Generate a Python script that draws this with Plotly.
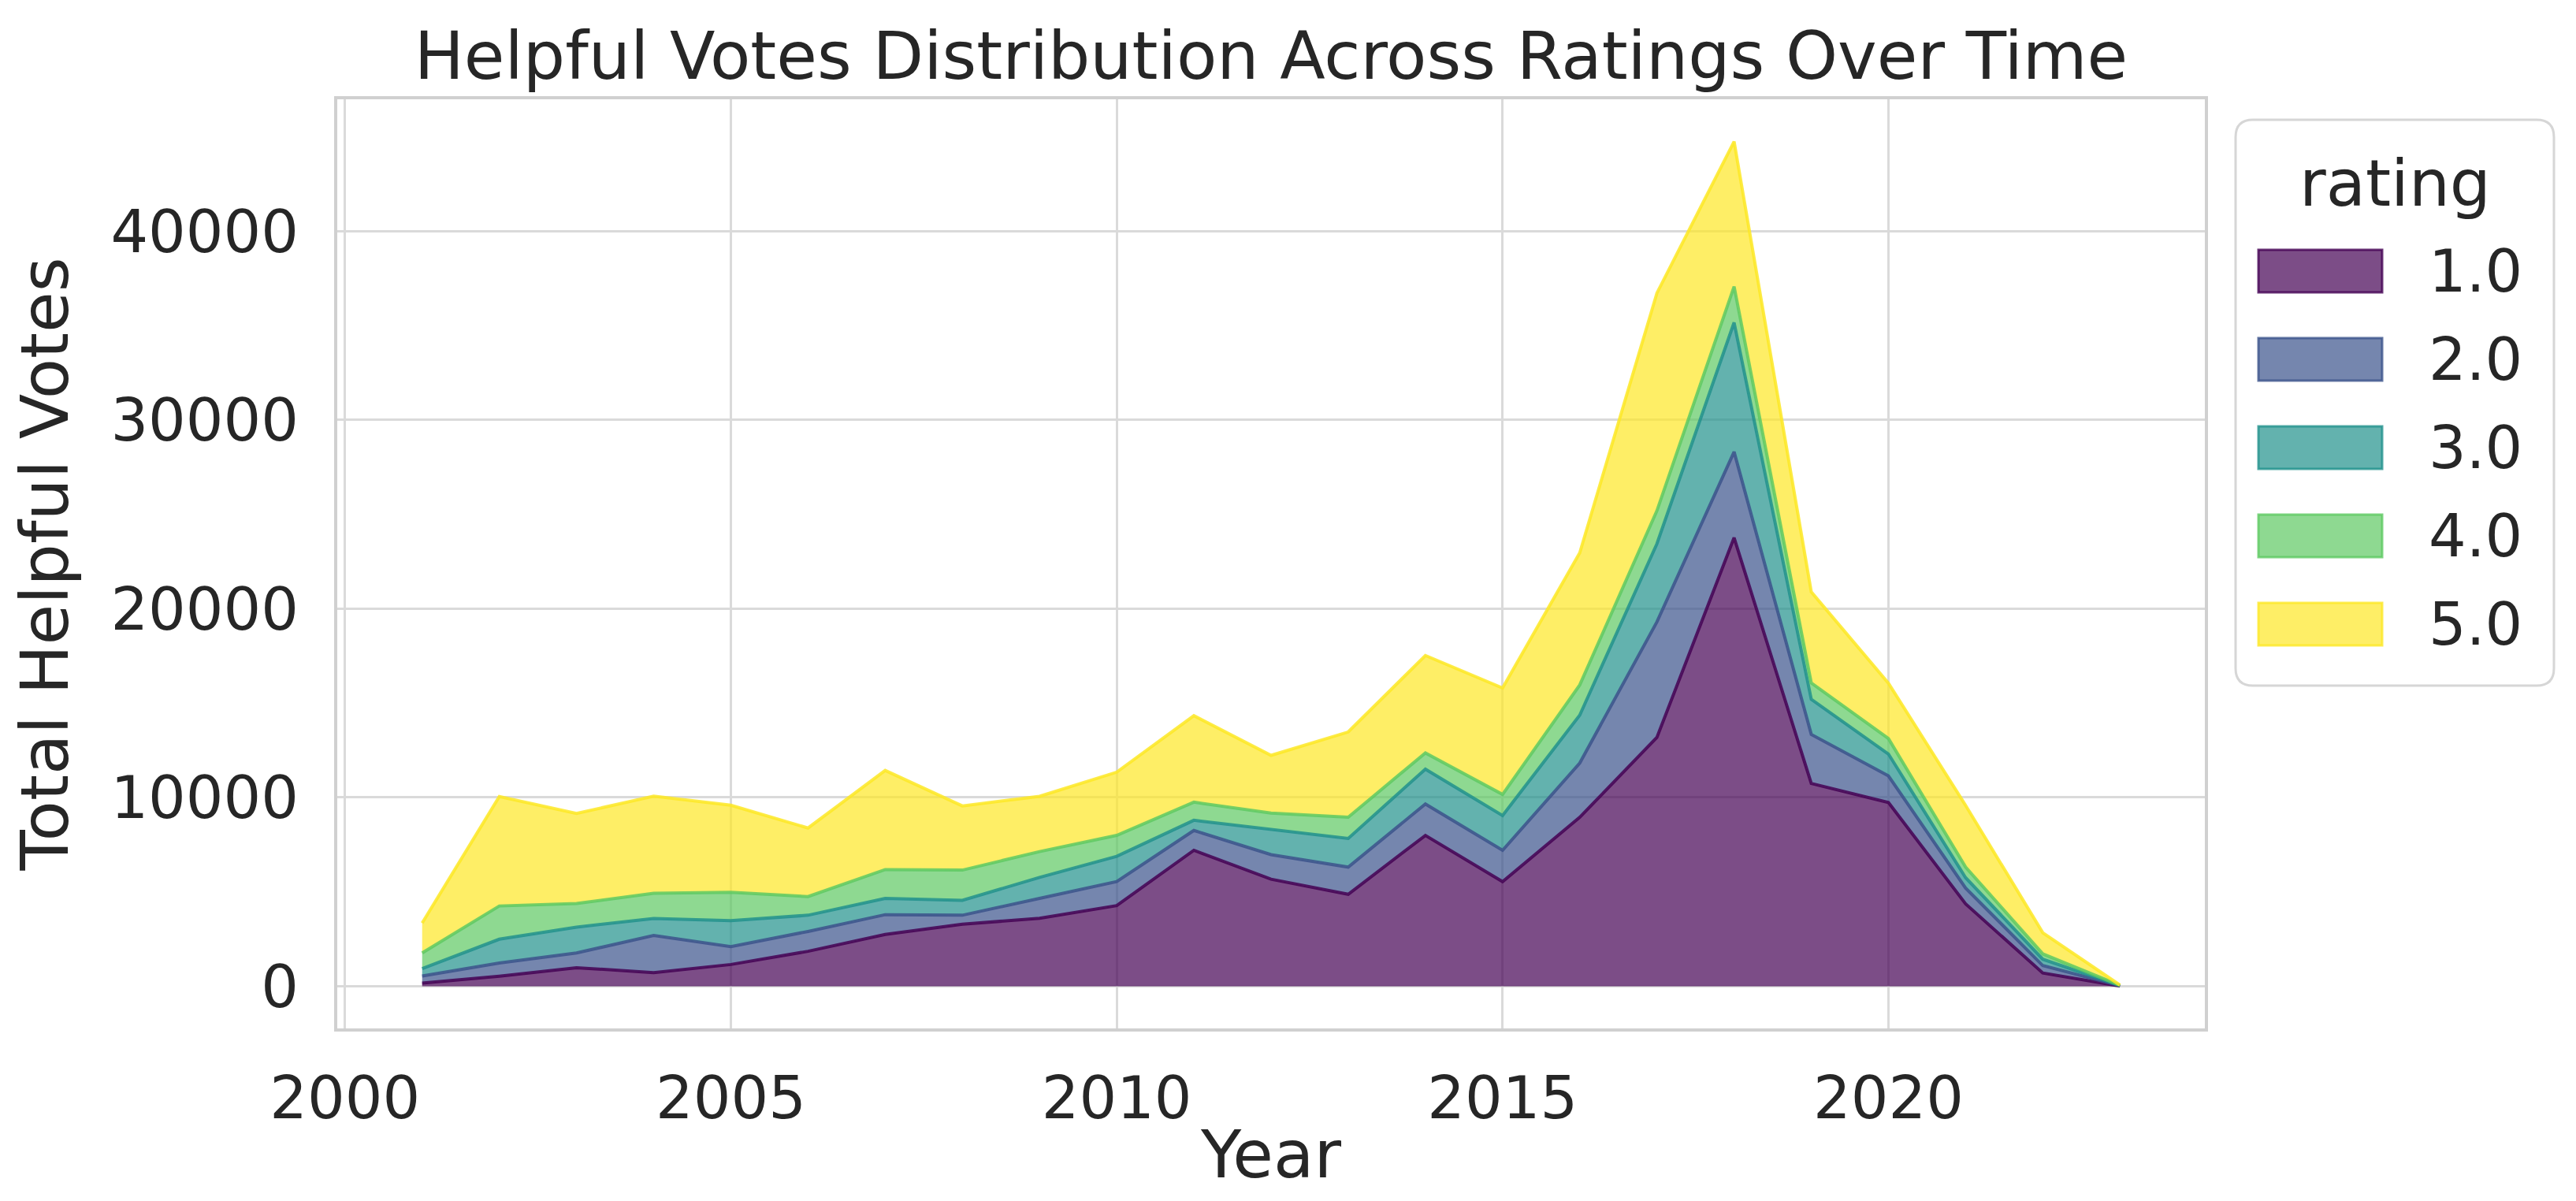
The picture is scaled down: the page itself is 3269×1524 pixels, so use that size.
import plotly.graph_objects as go

# ---- data ----
years = list(range(2001, 2024))
ratings = ["1.0", "2.0", "3.0", "4.0", "5.0"]
votes_r1 = [160, 530, 980, 720, 1150, 1850, 2740, 3280, 3600, 4270, 7200, 5670, 4870, 7990, 5540, 8950, 13180, 23760, 10740, 9730, 4360, 700, 10]
votes_r2 = [380, 700, 780, 1970, 950, 1050, 1050, 480, 1050, 1270, 1050, 1300, 1440, 1660, 1660, 2870, 6120, 4550, 2600, 1410, 840, 390, 10]
votes_r3 = [390, 1260, 1370, 900, 1370, 860, 860, 790, 1110, 1340, 540, 1340, 1520, 1850, 1840, 2540, 4140, 6850, 1860, 1160, 550, 340, 10]
votes_r4 = [830, 1760, 1250, 1330, 1500, 990, 1530, 1600, 1370, 1110, 960, 860, 1120, 860, 1120, 1600, 1750, 1910, 870, 820, 560, 280, 10]
votes_r5 = [1590, 5800, 4770, 5150, 4620, 3630, 5250, 3400, 2930, 3350, 4580, 3060, 4520, 5160, 5640, 7000, 11530, 7680, 4820, 2930, 3270, 1120, 20]
series = [votes_r1, votes_r2, votes_r3, votes_r4, votes_r5]
x_ticks = [2000, 2005, 2010, 2015, 2020]
y_ticks = [0, 10000, 20000, 30000, 40000]

# ---- style ----
colors = [(68, 1, 84), (59, 82, 139), (33, 145, 140), (94, 201, 98), (253, 231, 37)]
ALPHA = 0.7
FONT = "DejaVu Sans"
TXT = "#262626"
W, H = 3269, 1524
L, R, T, B = 420, 2790, 118, 1297  # plot area in pixels

def rgba(c, a):
    return f"rgba({c[0]},{c[1]},{c[2]},{a})"

fig = go.Figure()
for name, vals, c in zip(ratings, series, colors):
    fig.add_trace(go.Scatter(
        x=years, y=vals, name=name, mode="lines", stackgroup="one",
        line=dict(color=rgba(c, 0.85), width=4),
        fillcolor=rgba(c, ALPHA), showlegend=False,
    ))

totals = [sum(v) for v in zip(*series)]
ymax = max(totals)
xmin, xmax = min(years), max(years)
xpad = 0.05 * (xmax - xmin)

fig.update_layout(
    width=W, height=H,
    margin=dict(l=L, r=W - R, t=T, b=H - B, pad=0),
    paper_bgcolor="white", plot_bgcolor="white",
    font=dict(family=FONT, color=TXT, size=75),
    title=dict(text="Helpful Votes Distribution Across Ratings Over Time",
               x=(L + R) / 2 / W, xanchor="center",
               y=1 - 63 / H, yanchor="middle",
               font=dict(size=84, color=TXT, family=FONT)),
    xaxis=dict(range=[xmin - xpad, xmax + xpad], tickmode="array", tickvals=x_ticks,
               ticktext=[str(t) for t in x_ticks],
               showgrid=True, gridcolor="#dadada", gridwidth=2.5,
               showline=True, linecolor="#d0d0d0", linewidth=4, mirror=True,
               zeroline=False, ticks="", ticklabelstandoff=20,
               tickfont=dict(size=75, color=TXT),
               title=dict(text="Year", font=dict(size=84, color=TXT), standoff=0)),
    yaxis=dict(range=[-0.05 * ymax, 1.05 * ymax], tickmode="array", tickvals=y_ticks,
               ticktext=[str(t) for t in y_ticks],
               showgrid=True, gridcolor="#dadada", gridwidth=2.5,
               showline=True, linecolor="#d0d0d0", linewidth=4, mirror=True,
               zeroline=False, ticks="", ticklabelstandoff=30,
               tickfont=dict(size=75, color=TXT),
               title=dict(text="Total Helpful Votes", font=dict(size=84, color=TXT), standoff=30)),
)

# ---- legend drawn as shapes + text (pixel positions -> paper coords) ----
def px(X):
    return (X - L) / (R - L)

def py(Y):
    return (B - Y) / (B - T)

bx0, bx1, by0, by1, rad = 2829, 3233, 144, 862, 22
path = (f"M{px(bx0 + rad)},{py(by0)} L{px(bx1 - rad)},{py(by0)} "
        f"Q{px(bx1)},{py(by0)} {px(bx1)},{py(by0 + rad)} "
        f"L{px(bx1)},{py(by1 - rad)} Q{px(bx1)},{py(by1)} {px(bx1 - rad)},{py(by1)} "
        f"L{px(bx0 + rad)},{py(by1)} Q{px(bx0)},{py(by1)} {px(bx0)},{py(by1 - rad)} "
        f"L{px(bx0)},{py(by0 + rad)} Q{px(bx0)},{py(by0)} {px(bx0 + rad)},{py(by0)} Z")
fig.add_shape(type="path", path=path, xref="paper", yref="paper",
              line=dict(color="#d6d6d6", width=3), fillcolor="rgba(255,255,255,0.8)", layer="above")
fig.add_annotation(text="rating", x=px(3031), y=py(224), xref="paper", yref="paper",
                   xanchor="center", yanchor="middle", showarrow=False,
                   font=dict(size=82, color=TXT, family=FONT))
centers = [336, 448, 560, 672, 784]
for name, c, cy in zip(ratings, colors, centers):
    fig.add_shape(type="rect", xref="paper", yref="paper",
                  x0=px(2858), x1=px(3015), y0=py(cy - 27), y1=py(cy + 27),
                  fillcolor=rgba(c, ALPHA), line=dict(color=rgba(c, 0.8), width=3), layer="above")
    fig.add_annotation(text=name, x=px(3195), y=py(cy), xref="paper", yref="paper",
                       xanchor="right", yanchor="middle", showarrow=False,
                       font=dict(size=75, color=TXT, family=FONT))

fig.write_html("out.html")
